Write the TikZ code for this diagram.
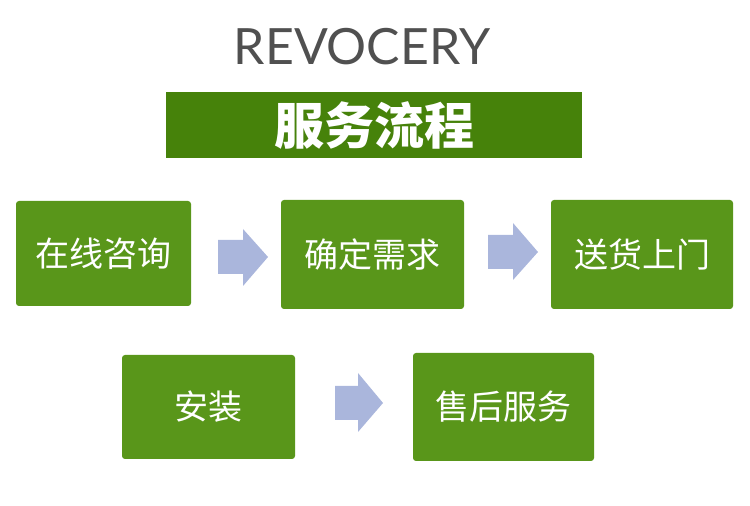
\documentclass[tikz,border=0pt]{standalone}
\usepackage{fontspec}
\setmainfont{Lato}
\newfontfamily\cjk{Noto Sans CJK SC}
\definecolor{boxgreen}{RGB}{89,150,26}
\definecolor{bannergreen}{RGB}{70,130,10}
\definecolor{arrowblue}{RGB}{170,182,220}
\definecolor{titlegray}{RGB}{80,80,80}
\tikzset{
	stepbox/.style={fill=boxgreen, rounded corners=3pt, text=white, font=\cjk\fontsize{34}{34}\selectfont, inner sep=0pt},
	flowarrow/.style={fill=arrowblue}
}
\begin{document}
\begin{tikzpicture}[x=1pt,y=1pt]
		\useasboundingbox (0,0) rectangle (750,506);
		% Title
		\node[anchor=base, text=titlegray, font=\fontsize{50}{50}\selectfont] (title) at (362,441) {REVOCERY};
		\node[fill=bannergreen, minimum width=416pt, minimum height=66pt, text=white, font=\cjk\bfseries\fontsize{50}{50}\selectfont] (banner) at (374,381) {服务流程};

		% First row
		\node[stepbox, minimum width=175pt, minimum height=105pt] (consult) at (103.5,252.5) {在线咨询};
		\node[stepbox, minimum width=183pt, minimum height=109pt] (confirm) at (372.5,251.5) {确定需求};
		\node[stepbox, minimum width=182pt, minimum height=109pt] (deliver) at (642,251.5) {送货上门};
		\fill[flowarrow] (218,232) -- (243,232) -- (243,220) -- (268,249) -- (243,277) -- (243,266) -- (218,266) -- cycle;
		\fill[flowarrow] (488,237) -- (513,237) -- (513,226) -- (538,254) -- (513,283) -- (513,271) -- (488,271) -- cycle;

		% Second row
		\node[stepbox, minimum width=173pt, minimum height=104pt] (install) at (208.5,99) {安装};
		\node[stepbox, minimum width=181pt, minimum height=108pt] (service) at (503.5,99) {售后服务};
		\fill[flowarrow] (335,86) -- (358,86) -- (358,74) -- (383,103) -- (358,133) -- (358,120) -- (335,120) -- cycle;
	\end{tikzpicture}
\end{document}
